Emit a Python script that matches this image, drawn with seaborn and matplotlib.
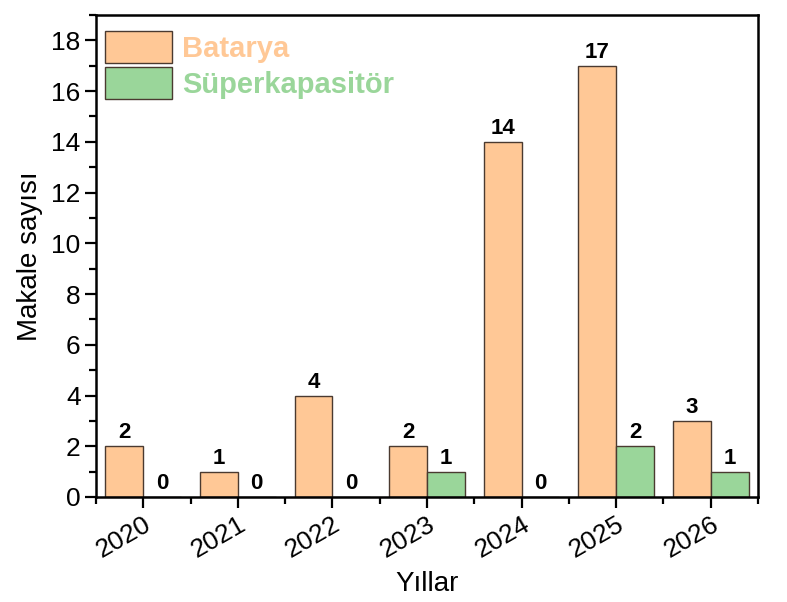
import matplotlib
matplotlib.use("Agg")
import matplotlib.pyplot as plt
import seaborn as sns
import pandas as pd
from matplotlib.ticker import MultipleLocator, FixedLocator

years = ["2020", "2021", "2022", "2023", "2024", "2025", "2026"]
batarya = [2, 1, 4, 2, 14, 17, 3]
superkap = [0, 0, 0, 1, 0, 2, 1]
series_names = ["Batarya", "Süperkapasitör"]
colors = ["#FFC896", "#9AD69A"]

df = pd.DataFrame({
    "Yıl": years * 2,
    "Sayı": batarya + superkap,
    "Seri": [series_names[0]] * len(years) + [series_names[1]] * len(years),
})

sns.set_theme(style="white")
plt.rcParams["font.family"] = ["Liberation Sans", "DejaVu Sans"]
plt.rcParams["text.color"] = "black"
plt.rcParams["axes.labelcolor"] = "black"
plt.rcParams["xtick.color"] = "black"
plt.rcParams["ytick.color"] = "black"

fig = plt.figure(figsize=(7.87, 6.02), dpi=100)
ax = fig.add_axes([96/787, 105/602, (758-96)/787, (497-15)/602])

sns.barplot(data=df, x="Yıl", y="Sayı", hue="Seri", palette=colors,
            edgecolor="#4a3a30", linewidth=1.0, width=0.8, ax=ax, saturation=1)

for cont in ax.containers:
    ax.bar_label(cont, fmt="%d", fontsize=16, fontweight="bold", padding=2, color="black")

ax.set_ylim(0, 19)
ax.set_xlim(-0.5, len(years) - 0.5)
ax.yaxis.set_major_locator(MultipleLocator(2))
ax.yaxis.set_minor_locator(MultipleLocator(1))
ax.xaxis.set_minor_locator(FixedLocator([i + 0.5 for i in range(-1, len(years))]))

for s in ax.spines.values():
    s.set_linewidth(1.8)
    s.set_color("black")

ax.tick_params(axis="both", which="major", direction="out", length=8, width=1.6,
               labelsize=19, colors="black", bottom=True, left=True, pad=3)
ax.tick_params(axis="both", which="minor", direction="out", length=5, width=1.6,
               bottom=True, left=True)
plt.setp(ax.get_xticklabels(), rotation=30, ha="right", va="top", rotation_mode="anchor")

ax.set_xlabel("Yıllar", fontsize=20, labelpad=6)
ax.set_ylabel("Makale sayısı", fontsize=20, labelpad=6)

leg = ax.legend(loc="upper left", bbox_to_anchor=(0.0, 0.985), frameon=False,
                fontsize=21, handlelength=2.3, handleheight=1.3, handletextpad=0.35,
                labelspacing=0.15, borderaxespad=0.1, borderpad=0.2)
for txt, c in zip(leg.get_texts(), colors):
    txt.set_color(c)
    txt.set_fontweight("bold")

fig.savefig("out.png", dpi=100)
